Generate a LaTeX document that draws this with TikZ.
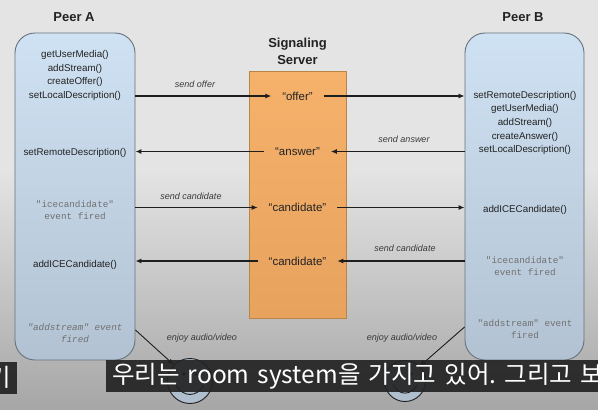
\documentclass[tikz,border=0pt]{standalone}
\usepackage{fontspec}
\setmainfont{Liberation Sans}
\setmonofont{Liberation Mono}
\newfontfamily\krfont{Noto Sans CJK KR}
\usetikzlibrary{arrows.meta,calc}
\frenchspacing
\definecolor{bgtop}{HTML}{E4E4E4}
\definecolor{bgbot}{HTML}{A6A6A6}
\definecolor{peertop}{HTML}{CFE2F3}
\definecolor{peermid}{HTML}{C9DBEC}
\definecolor{peerbot}{HTML}{B2C2D2}
\definecolor{peerline}{HTML}{66717C}
\definecolor{orgtop}{HTML}{F6B26B}
\definecolor{orgbot}{HTML}{E7A25E}
\definecolor{orgline}{HTML}{B98448}
\definecolor{txtc}{HTML}{222222}
\definecolor{monoc}{HTML}{707070}
\definecolor{lblc}{HTML}{3A3A3A}
\definecolor{linec}{HTML}{1E1E1E}
\definecolor{smfill}{HTML}{AFBFCE}
\definecolor{subbg}{HTML}{232323}
\tikzset{
  peer/.style={draw=peerline, line width=0.9pt, rounded corners=20pt,
    minimum height=327pt, top color=peertop, middle color=peermid, bottom color=peerbot},
  server/.style={draw=orgline, line width=0.8pt, minimum width=97pt, minimum height=247pt,
    top color=orgtop, bottom color=orgbot},
  ptxt/.style={font=\fontsize{9.8}{13.6}\selectfont, align=center, text=txtc, inner sep=0pt},
  mtxt/.style={font=\ttfamily\fontsize{9.3}{12}\selectfont, align=center, text=monoc, inner sep=0pt},
  stxt/.style={font=\fontsize{11.5}{14}\selectfont, text=txtc, inner sep=0pt, outer xsep=11pt},
  lbl/.style={font=\itshape\fontsize{9}{11}\selectfont, text=lblc, inner sep=0pt},
  ttl/.style={font=\bfseries\fontsize{13}{17}\selectfont, align=center, text=txtc, inner sep=0pt},
  arr/.style={-{Latex[length=6pt,width=5pt]}, line width=1.1pt, draw=linec},
  smiley/.style={circle, draw=linec, line width=0.9pt, fill=smfill, inner sep=0pt},
  subbar/.style={fill=subbg, fill opacity=0.92, text opacity=1, text=white,
    font=\krfont\fontsize{24.5}{28}\selectfont\frenchspacing, minimum height=32pt, inner xsep=6pt, inner ysep=0pt}
}
\begin{document}
\begin{tikzpicture}[x=1pt,y=-1pt]
\useasboundingbox (0,0) rectangle (598,410);
\begin{scope}
\clip (0,0) rectangle (598,410);
% background
\fill[bgtop] (0,0) rectangle (598,170);
\shade[top color=bgtop, bottom color=bgbot] (0,169.5) rectangle (598,410);

% titles
\node[ttl] (ta) at (74,17) {Peer A};
\node[ttl] (tb) at (523,17) {Peer B};
\node[ttl] (ts) at (297.5,51.5) {Signaling\\Server};

% boxes
\node[peer, minimum width=120pt] (pa) at (75,196.5) {};
\node[peer, minimum width=119pt] (pb) at (524.5,196.5) {};
\node[server] (srv) at (297.5,194.5) {};

% peer A texts
\node[ptxt] (a1) at (75,75.5) {getUserMedia()\\addStream()\\createOffer()\\setLocalDescription()};
\node[ptxt] (a2) at (75,152.5) {setRemoteDescription()};
\node[mtxt] (a3) at (75,210.5) {"icecandidate"\\event fired};
\node[ptxt] (a4) at (75,264.5) {addICECandidate()};
\node[mtxt, font=\ttfamily\itshape\fontsize{9.3}{12}\selectfont] (a5) at (75,333) {"addstream" event\\fired};

% peer B texts
\node[ptxt] (b1) at (525,123) {setRemoteDescription()\\getUserMedia()\\addStream()\\createAnswer()\\setLocalDescription()};
\node[ptxt] (b2) at (525,209.5) {addICECandidate()};
\node[mtxt] (b3) at (525,266.5) {"icecandidate"\\event fired};
\node[mtxt] (b4) at (525,329) {"addstream" event\\fired};

% server texts
\node[stxt] (s1) at (297.5,96) {“offer”};
\node[stxt] (s2) at (297.5,151.5) {“answer”};
\node[stxt] (s3) at (297.5,207.5) {“candidate”};
\node[stxt] (s4) at (297.5,261) {“candidate”};

% arrows
\draw[arr] (pa.east |- s1.west) -- (s1.west);
\draw[arr] (s1.east) -- (pb.west |- s1.east);
\draw[arr] (pb.west |- s2.east) -- (s2.east);
\draw[arr] (s2.west) -- (pa.east |- s2.west);
\draw[arr] (pa.east |- s3.west) -- (s3.west);
\draw[arr] (s3.east) -- (pb.west |- s3.east);
\draw[arr] (pb.west |- s4.east) -- (s4.east);
\draw[arr] (s4.west) -- (pa.east |- s4.west);

% labels
\node[lbl] (l1) at (195,84) {send offer};
\node[lbl] (l2) at (404,139) {send answer};
\node[lbl] (l3) at (191,196) {send candidate};
\node[lbl] (l4) at (405,248) {send candidate};
\node[lbl] (l5) at (202,338) {enjoy audio/video};
\node[lbl] (l6) at (402,338) {enjoy audio/video};

% smileys
\node[smiley, minimum size=45pt] (sa) at (190,381) {};
\node[smiley, minimum size=41pt] (sb) at (405,381) {};
\foreach \s/\r in {sa/14, sb/12}{
  \fill[linec] ($(\s)+(-6,-7)$) circle[radius=1.8];
  \fill[linec] ($(\s)+(6,-7)$) circle[radius=1.8];
  \draw[linec, line width=0.9pt] ($(\s)+(-\r,4)$) .. controls ($(\s)+(-0.5*\r,0.9*\r+4)$) and ($(\s)+(0.5*\r,0.9*\r+4)$) .. ($(\s)+(\r,4)$);
}
\draw[arr, line width=0.9pt] (pa.east |- 0,330) -- (sa.135);
\draw[arr, line width=0.9pt] (pb.west |- 0,327) -- (sb.45);

% subtitle overlay
\node[subbar, anchor=west, minimum width=520pt, align=left, text width=508pt] (sub) at (106,376) {우리는 room system을 가지고 있어. 그리고 보};
\node[subbar, anchor=east] (sub0) at (17,377.5) {기};
\end{scope}
\end{tikzpicture}
\end{document}
